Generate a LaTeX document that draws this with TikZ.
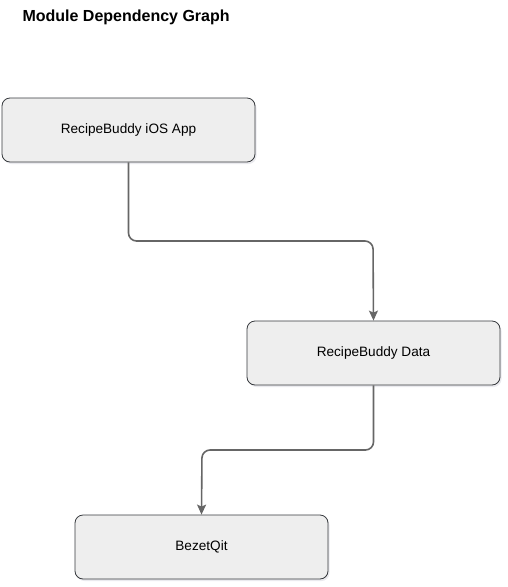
\documentclass[tikz,border=0pt]{standalone}
\usepackage{fontspec}
\setmainfont{Liberation Sans}
\usepackage{xcolor}
\usetikzlibrary{arrows.meta, positioning, calc, shadows}
\definecolor{boxfill}{HTML}{EEEEEE}
\definecolor{boxline}{HTML}{36393D}
\definecolor{edgeline}{HTML}{666666}

\begin{document}
\begin{tikzpicture}[x=1pt, y=-1pt,
    module/.style={draw=boxline, fill=boxfill, rounded corners=8pt, minimum width=253pt,
        minimum height=64pt, font=\fontsize{13.6}{16}\selectfont, line width=0.8pt,
        drop shadow={shadow xshift=1.5pt, shadow yshift=-2pt, fill=blue!10!gray!30}},
    dep/.style={draw=edgeline, line width=1.6pt, rounded corners=8pt,
        -{Stealth[length=10pt, width=9pt, inset=2pt]}}]
\useasboundingbox (0,0) rectangle (508,587);
% Title
\node[font=\bfseries\fontsize{16}{18}\selectfont, anchor=west] (title) at (19,17) {Module Dependency Graph};
% Modules
\node[module] (app) at (128.5,130) {RecipeBuddy iOS App};
\node[module] (data) at (373.5,353) {RecipeBuddy Data};
\node[module] (qit) at (201.5,547) {BezetQit};
% Dependencies
\draw[dep] (app.south) |- (373,241) -- (data.north);
\draw[dep] (data.south) |- (202,450) -- (qit.north);
\end{tikzpicture}
\end{document}
